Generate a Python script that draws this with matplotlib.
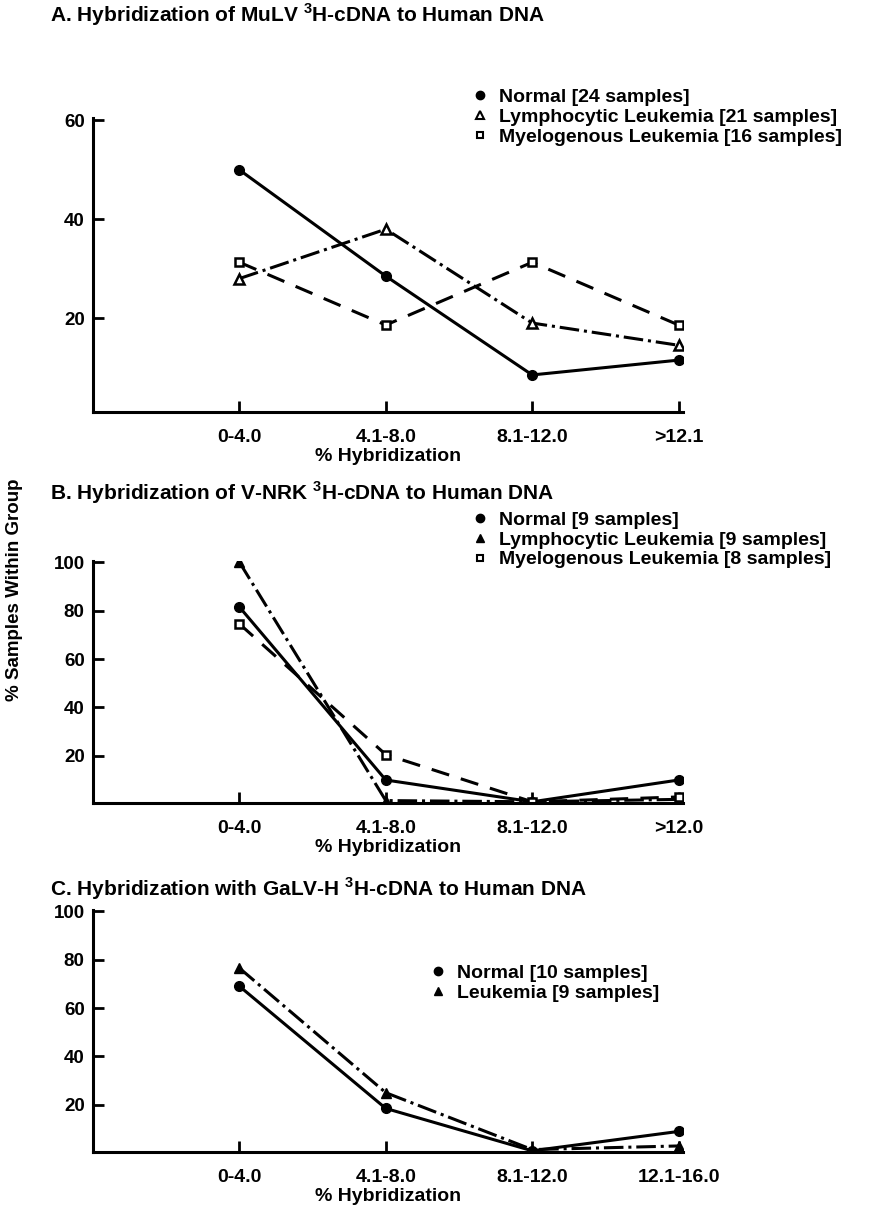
import numpy as np
import matplotlib.pyplot as plt
from matplotlib.lines import Line2D

plt.rcParams['font.family'] = ['Liberation Sans', 'DejaVu Sans']
plt.rcParams['font.weight'] = 'bold'
plt.rcParams['mathtext.fontset'] = 'custom'
plt.rcParams['mathtext.rm'] = 'Liberation Sans:bold'
plt.rcParams['mathtext.bf'] = 'Liberation Sans:bold'

# panel A: MuLV
cats_a = ['0-4.0', '4.1-8.0', '8.1-12.0', '>12.1']
normal_a = [50, 28.5, 8.5, 11.5]
lymph_a = [28, 38, 19, 14.5]
myelo_a = [31.3, 18.6, 31.3, 18.6]

# panel B: V-NRK
cats_b = ['0-4.0', '4.1-8.0', '8.1-12.0', '>12.0']
normal_b = [81.5, 10, 1, 10]
lymph_b = [100, 1.5, 1, 2]
myelo_b = [74.5, 20.5, 1, 3]

# panel C: GaLV-H
cats_c = ['0-4.0', '4.1-8.0', '8.1-12.0', '12.1-16.0']
normal_c = [69, 18.5, 1, 9]
leuk_c = [76.5, 25, 1.5, 3]

fig = plt.figure(figsize=(8.77, 12.13), dpi=100)
W, H = 877, 1213

def make_ax(left, top, right, bottom):
    return fig.add_axes([left / W, 1 - bottom / H, (right - left) / W, (bottom - top) / H])

ax_a = make_ax(93, 118, 683, 412)
ax_b = make_ax(93, 561, 683, 803)
ax_c = make_ax(93, 910, 683, 1152)

fs = 14
lw = 2.2

def style(ax, cats, ylim, yticks):
    x = np.arange(1, len(cats) + 1)
    ax.set_xlim(0, 4.03)
    ax.set_ylim(*ylim)
    ax.set_xticks(x)
    ax.set_xticklabels(cats, fontsize=fs, fontweight='bold')
    ax.set_yticks(yticks)
    ax.set_yticklabels([str(t) for t in yticks], fontsize=13.5, fontweight='bold')
    for s in ['top', 'right']:
        ax.spines[s].set_visible(False)
    for s in ['left', 'bottom']:
        ax.spines[s].set_linewidth(2.2)
    ax.tick_params(axis='x', direction='in', length=8, width=2, pad=12)
    ax.tick_params(axis='y', direction='in', length=8, width=2, pad=6)
    ax.set_xlabel('% Hybridization', fontsize=fs, fontweight='bold', labelpad=2)
    return x

# A
x = style(ax_a, cats_a, (1, 60.5), [20, 40, 60])
ax_a.plot(x, normal_a, '-', color='black', lw=lw, marker='o', ms=7)
ax_a.plot(x, lymph_a, '-.', color='black', lw=lw, marker='^', ms=7, mfc='white', mew=1.8)
ax_a.plot(x, myelo_a, '--', color='black', lw=lw, marker='s', ms=6, mfc='white', mew=1.8, dashes=(6, 4))
handles_a = [Line2D([], [], ls='none', marker='o', color='black', ms=6),
             Line2D([], [], ls='none', marker='^', color='black', ms=6, mfc='white', mew=1.5),
             Line2D([], [], ls='none', marker='s', color='black', ms=5, mfc='white', mew=1.5)]
labels_a = ['Normal [24 samples]', 'Lymphocytic Leukemia [21 samples]', 'Myelogenous Leukemia [16 samples]']
fig.legend(handles_a, labels_a, loc='upper left', bbox_to_anchor=(474 / W, 1 - 88 / H),
           frameon=False, fontsize=fs, handlelength=0.6, handletextpad=0.7,
           labelspacing=0.12, borderpad=0, borderaxespad=0)
fig.text(50 / W, 1 - 15 / H, r'A. Hybridization of MuLV $^{3}$H-cDNA to Human DNA',
         fontsize=15, fontweight='bold', va='center', ha='left')

# B
x = style(ax_b, cats_b, (0.5, 100.5), [20, 40, 60, 80, 100])
ax_b.plot(x, normal_b, '-', color='black', lw=lw, marker='o', ms=7)
ax_b.plot(x, lymph_b, '-.', color='black', lw=lw, marker='^', ms=7)
ax_b.plot(x, myelo_b, '--', color='black', lw=lw, marker='s', ms=6, mfc='white', mew=1.8, dashes=(6, 4))
handles_b = [Line2D([], [], ls='none', marker='o', color='black', ms=6),
             Line2D([], [], ls='none', marker='^', color='black', ms=6),
             Line2D([], [], ls='none', marker='s', color='black', ms=5, mfc='white', mew=1.5)]
labels_b = ['Normal [9 samples]', 'Lymphocytic Leukemia [9 samples]', 'Myelogenous Leukemia [8 samples]']
fig.legend(handles_b, labels_b, loc='upper left', bbox_to_anchor=(474 / W, 1 - 511 / H),
           frameon=False, fontsize=fs, handlelength=0.6, handletextpad=0.7,
           labelspacing=0.12, borderpad=0, borderaxespad=0)
fig.text(50 / W, 1 - 493 / H, r'B. Hybridization of V-NRK $^{3}$H-cDNA to Human DNA',
         fontsize=15, fontweight='bold', va='center', ha='left')

# C
x = style(ax_c, cats_c, (0.5, 100.5), [20, 40, 60, 80, 100])
ax_c.plot(x, normal_c, '-', color='black', lw=lw, marker='o', ms=7)
ax_c.plot(x, leuk_c, '-.', color='black', lw=lw, marker='^', ms=7)
handles_c = [Line2D([], [], ls='none', marker='o', color='black', ms=6),
             Line2D([], [], ls='none', marker='^', color='black', ms=6)]
labels_c = ['Normal [10 samples]', 'Leukemia [9 samples]']
fig.legend(handles_c, labels_c, loc='upper left', bbox_to_anchor=(432 / W, 1 - 964 / H),
           frameon=False, fontsize=fs, handlelength=0.6, handletextpad=0.7,
           labelspacing=0.12, borderpad=0, borderaxespad=0)
fig.text(50 / W, 1 - 889 / H, r'C. Hybridization with GaLV-H $^{3}$H-cDNA to Human DNA',
         fontsize=15, fontweight='bold', va='center', ha='left')

fig.text(15 / W, 1 - 590 / H, '% Samples Within Group', rotation=90, fontsize=13.5,
         fontweight='bold', va='center', ha='center')

fig.savefig('out.png', dpi=100, facecolor='white')
